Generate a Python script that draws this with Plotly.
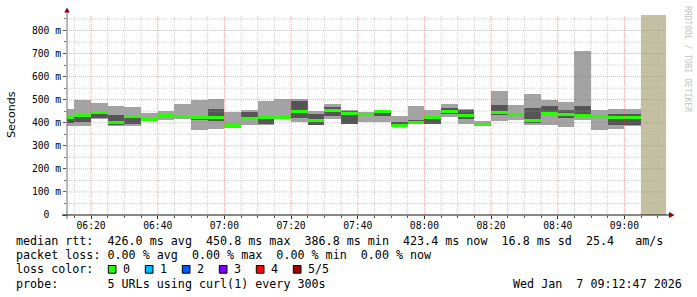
import plotly.graph_objects as go
import pandas as pd

# ---------------- data (5-minute steps, 5 probes per step) ----------------
step_start = pd.date_range("2026-01-07 06:10", periods=35, freq="5min")
rtt_min = [385, 388, 417, 384, 388, 406, 414, 415, 367, 371, 377, 391, 389, 417, 403, 389, 417, 393,
           402, 403, 382, 396, 393, 425, 395, 389, 409, 414, 390, 390, 381, 410, 367, 371, 388]
rtt_p2 = [400, 403, 420, 389, 393, 410, 427, 420, 414, 409, 384, 414, 393, 420, 422, 391, 430, 395,
          430, 430, 384, 398, 395, 440, 416, 390, 432, 432, 397, 434, 420, 428, 425, 389, 390]
rtt_median = [423, 432, 446, 403, 425, 414, 430, 425, 422, 423, 388, 420, 421, 424, 447, 408, 451, 438,
              437, 447, 387, 401, 421, 448, 430, 393, 444, 437, 411, 441, 435, 433, 429, 422, 423]
rtt_p4 = [428, 435, 449, 432, 428, 418, 433, 431, 425, 458, 394, 445, 428, 428, 493, 440, 470, 450,
          442, 450, 405, 412, 424, 465, 455, 398, 475, 442, 462, 471, 454, 471, 432, 440, 438]
rtt_max = [458, 498, 484, 471, 467, 442, 449, 480, 498, 502, 446, 454, 493, 505, 505, 449, 480, 457,
           446, 454, 428, 472, 456, 480, 458, 406, 538, 479, 525, 497, 489, 713, 456, 460, 460]

x_start = "2026-01-07 06:12:47"
x_end = "2026-01-07 09:12:47"
unknown_from = "2026-01-07 09:05:00"
unknown_to = "2026-01-07 09:12:30"
y_max = 867

y_tick_vals = [0, 100, 200, 300, 400, 500, 600, 700, 800]
y_tick_text = ["0\u00a0\u00a0", "100 m", "200 m", "300 m", "400 m", "500 m", "600 m", "700 m", "800 m"]

legend_line1 = "median rtt:  426.0 ms avg  450.8 ms max  386.8 ms min  423.4 ms now  16.8 ms sd  25.4   am/s"
legend_line2 = "packet loss: 0.00 % avg  0.00 % max  0.00 % min  0.00 % now"
legend_line3 = "loss color:"
loss_labels = ["0", "1", "2", "3", "4", "5/5"]
loss_colors = ["#26ff00", "#00b8ff", "#0059ff", "#7e00ff", "#ff0000", "#a10000"]
legend_line4 = "probe:       5 URLs using curl(1) every 300s"
stamp = "Wed Jan  7 09:12:47 2026"
watermark = "RRDTOOL / TOBI OETIKER"

# ---------------- styles ----------------
W, H = 697, 297
L, R, T, B = 67, 30, 15, 82
PW, PH = W - L - R, H - T - B
LIGHT = "#a3a3a3"
DARK = "#555555"
GREEN = loss_colors[0]
MONO = "DejaVu Sans Mono"
STEP_MS = 300000
MED_HALF = 6.5


def px(xp):
    return (xp - L) / PW


def py(yp):
    return (T + PH - yp) / PH


def nb(s):
    return s.replace(" ", "\u00a0")


centers = step_start + pd.Timedelta(seconds=150)

fig = go.Figure()
fig.add_trace(go.Bar(x=centers, y=[a - b for a, b in zip(rtt_max, rtt_min)], base=rtt_min,
                     width=STEP_MS, marker=dict(color=LIGHT, line=dict(width=0)), hoverinfo="skip"))
fig.add_trace(go.Bar(x=centers, y=[a - b for a, b in zip(rtt_p4, rtt_p2)], base=rtt_p2,
                     width=STEP_MS, marker=dict(color=DARK, line=dict(width=0)), hoverinfo="skip"))
fig.add_trace(go.Bar(x=centers, y=[2 * MED_HALF] * len(rtt_median), base=[m - MED_HALF for m in rtt_median],
                     width=STEP_MS, marker=dict(color=GREEN, line=dict(width=0)), hoverinfo="skip"))

shapes = []
# unknown (future) area
shapes.append(dict(type="rect", xref="x", yref="paper", x0=unknown_from, x1=unknown_to, y0=0, y1=1,
                   fillcolor="#c3c1a2", line=dict(width=0), layer="below"))

# grid (drawn above data, as rrdtool does)
MINOR_C = "rgba(170,170,170,0.55)"
MAJOR_C = "rgba(230,80,80,0.45)"
DASH = "1px,1px"
t0 = pd.Timestamp(x_start)
t1 = pd.Timestamp(x_end)
for t in pd.date_range(t0.ceil("5min"), t1, freq="5min"):
    major = (t.minute % 20 == 0)
    shapes.append(dict(type="line", xref="x", yref="paper", x0=t, x1=t, y0=0, y1=1, layer="above",
                       line=dict(color=MAJOR_C if major else MINOR_C, width=1, dash=DASH)))
for v in range(50, y_max, 50):
    major = (v % 100 == 0)
    shapes.append(dict(type="line", xref="paper", yref="y", x0=0, x1=1, y0=v, y1=v, layer="above",
                       line=dict(color=MAJOR_C if major else MINOR_C, width=1, dash=DASH)))

# axes lines and arrows
shapes.append(dict(type="line", xref="paper", yref="paper", x0=px(67), x1=px(67), y0=py(219), y1=py(12),
                   line=dict(color="#707070", width=1), layer="above"))
shapes.append(dict(type="line", xref="paper", yref="paper", x0=px(62), x1=px(669), y0=py(215), y1=py(215),
                   line=dict(color="#111111", width=1), layer="above"))
shapes.append(dict(type="path", xref="paper", yref="paper",
                   path=f"M {px(64.2)} {py(12.5)} L {px(69.8)} {py(12.5)} L {px(67)} {py(7.5)} Z",
                   fillcolor="#8b0000", line=dict(width=0), layer="above"))
shapes.append(dict(type="path", xref="paper", yref="paper",
                   path=f"M {px(669)} {py(212)} L {px(669)} {py(218)} L {px(674.5)} {py(215)} Z",
                   fillcolor="#8b0000", line=dict(width=0), layer="above"))

annotations = []
ly = [241.3, 255.4, 269.4, 283.6]
for txt, yy in [(legend_line1, ly[0]), (legend_line2, ly[1]), (legend_line3, ly[2]), (legend_line4, ly[3])]:
    annotations.append(dict(text=nb(txt), xref="paper", yref="paper", x=px(16), y=py(yy), xanchor="left",
                            yanchor="middle", showarrow=False, borderpad=0, borderwidth=0,
                            font=dict(family=MONO, size=11.7, color="#000000")))
annotations.append(dict(text=nb(stamp), xref="paper", yref="paper", x=px(681.5), y=py(ly[3]), xanchor="right",
                        yanchor="middle", showarrow=False, borderpad=0, borderwidth=0,
                        font=dict(family=MONO, size=11.7, color="#000000")))
for i, (lab, col) in enumerate(zip(loss_labels, loss_colors)):
    bx = 108.3 + 37 * i
    shapes.append(dict(type="rect", xref="paper", yref="paper", x0=px(bx), x1=px(bx + 7.7),
                       y0=py(273.2), y1=py(265.5), fillcolor=col, line=dict(color="#000000", width=1)))
    annotations.append(dict(text=lab, xref="paper", yref="paper", x=px(bx + 14.7), y=py(ly[2]), xanchor="left",
                            yanchor="middle", showarrow=False, borderpad=0, borderwidth=0,
                            font=dict(family=MONO, size=11.7, color="#000000")))
annotations.append(dict(text="Seconds", xref="paper", yref="paper", x=px(11), y=py(115), textangle=-90,
                        xanchor="center", yanchor="middle", showarrow=False, borderpad=0, borderwidth=0,
                        font=dict(family="DejaVu Sans", size=11.1, color="#000000")))
annotations.append(dict(text=nb(watermark), xref="paper", yref="paper", x=px(687), y=py(59), textangle=90,
                        xanchor="center", yanchor="middle", showarrow=False, borderpad=0, borderwidth=0,
                        font=dict(family=MONO, size=8, color="#c4c4c4")))

fig.update_layout(
    width=W, height=H, autosize=False,
    margin=dict(l=L, r=R, t=T, b=B, pad=0),
    paper_bgcolor="#ffffff", plot_bgcolor="#ffffff",
    barmode="overlay", bargap=0, showlegend=False,
    shapes=shapes, annotations=annotations,
    xaxis=dict(type="date", range=[x_start, x_end], showgrid=False, zeroline=False, showline=False,
               tick0="2026-01-07 06:20", dtick=1200000, tickformat="%H:%M",
               ticks="outside", ticklen=3, tickcolor="#333333", tickwidth=1,
               minor=dict(ticks="outside", ticklen=2, dtick=300000, tick0="2026-01-07 06:20",
                          tickcolor="#555555", showgrid=False),
               tickfont=dict(family=MONO, size=9.7, color="#000000"), ticklabelstandoff=-2),
    yaxis=dict(range=[0, y_max], showgrid=False, zeroline=False, showline=False,
               tickvals=y_tick_vals, ticktext=y_tick_text,
               ticks="outside", ticklen=3, tickcolor="#555555", tickwidth=1,
               minor=dict(ticks="outside", ticklen=2, dtick=50, tickcolor="#777777", showgrid=False),
               tickfont=dict(family=MONO, size=9.7, color="#000000"), ticklabelstandoff=0),
)

fig.write_html("out.html")
